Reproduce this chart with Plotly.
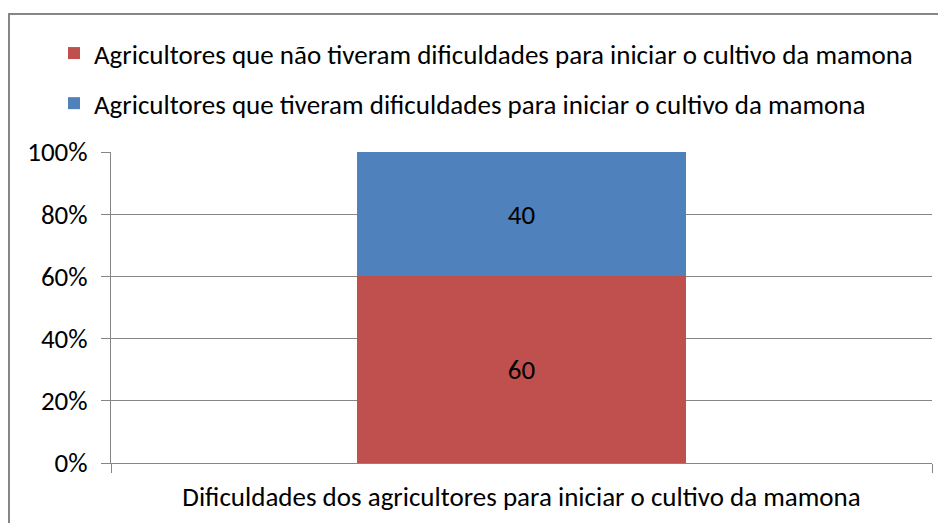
import plotly.graph_objects as go

categories = ["Dificuldades dos agricultores para iniciar o cultivo da mamona"]
series_names = [
    "Agricultores que não tiveram dificuldades para iniciar o cultivo da mamona",
    "Agricultores que tiveram dificuldades para iniciar o cultivo da mamona",
]
nao_tiveram = [60]
tiveram = [40]
y_ticks = [0, 20, 40, 60, 80, 100]
y_tick_labels = ["0%", "20%", "40%", "60%", "80%", "100%"]

FONT = "Carlito, Calibri, Lato, sans-serif"
FS = 27
GRAY = "#868686"

fig = go.Figure()
fig.add_trace(go.Bar(
    x=categories, y=nao_tiveram, name=series_names[0], legendgroup="a",
    marker=dict(color="#C0504D", line=dict(width=0)), width=0.4,
    text=nao_tiveram, textposition="inside", insidetextanchor="middle",
    textfont=dict(color="black", size=FS, family=FONT), hoverinfo="skip",
))
fig.add_trace(go.Bar(
    x=categories, y=tiveram, name=series_names[1], legendgroup="b",
    marker=dict(color="#4F81BD", line=dict(width=0)), width=0.4,
    text=tiveram, textposition="inside", insidetextanchor="middle",
    textfont=dict(color="black", size=FS, family=FONT), hoverinfo="skip",
))

# page has an 8px body margin; figure coordinates are offset by it
OFF = 8
W, H = 946, 523
L = 111 - OFF
T = 152 - OFF
R = W - (932 - OFF)
B = H - (463 - OFF)
pw, ph = W - L - R, H - T - B

def px(x):
    return (x - OFF - L) / pw

def py(y):
    return (H - B - (y - OFF)) / ph

fig.update_layout(
    width=W, height=H,
    margin=dict(l=L, r=R, t=T, b=B, pad=0, autoexpand=False),
    paper_bgcolor="white", plot_bgcolor="white",
    barmode="stack",
    font=dict(family=FONT, size=FS, color="black"),
    showlegend=True,
    legend=dict(
        xref="container", yref="container",
        x=46 / W, xanchor="left", y=1 - 21 / H, yanchor="top",
        traceorder="grouped", tracegroupgap=12,
        font=dict(family=FONT, size=FS, color="black"),
        bgcolor="rgba(0,0,0,0)", borderwidth=0,
    ),
    xaxis=dict(
        showline=True, linecolor=GRAY, linewidth=1, automargin=False,
        ticks="outside", tickson="boundaries", ticklen=9, tickcolor=GRAY,
        ticklabelstandoff=10,
        showgrid=False, tickfont=dict(family=FONT, size=FS, color="black"),
    ),
    yaxis=dict(
        range=[0, 100], tickmode="array", tickvals=y_ticks, ticktext=y_tick_labels,
        showline=True, linecolor=GRAY, linewidth=1, automargin=False,
        ticks="outside", ticklen=9, tickcolor=GRAY, ticklabelstandoff=8,
        showgrid=True, gridcolor=GRAY, gridwidth=1, zeroline=False,
        tickfont=dict(family=FONT, size=FS, color="black"),
    ),
    shapes=[dict(
        type="rect", xref="paper", yref="paper",
        x0=px(9), x1=px(960), y0=py(540), y1=py(14),
        line=dict(color=GRAY, width=2), fillcolor="rgba(0,0,0,0)",
        layer="below",
    )],
)

fig.write_html("out.html")
